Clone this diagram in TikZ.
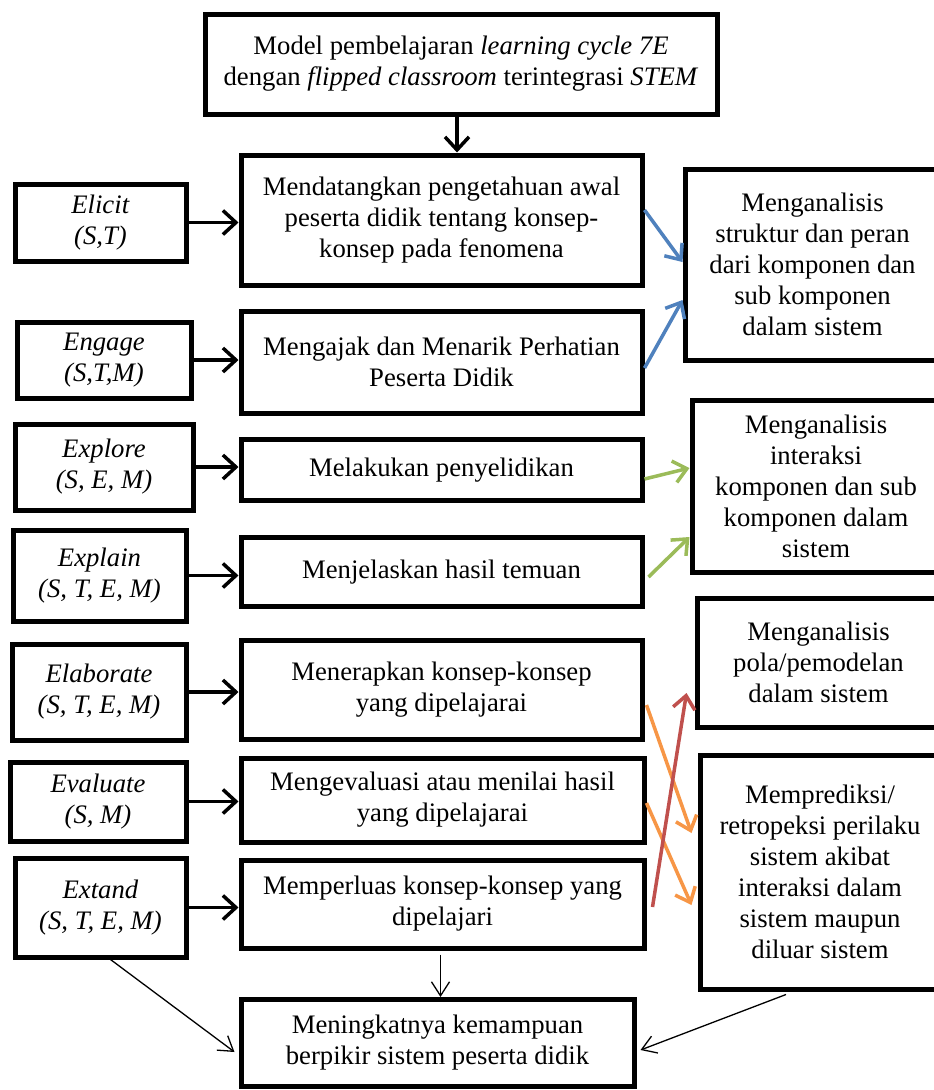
\documentclass[tikz,border=0pt]{standalone}
\usepackage{fontspec}
\setmainfont{Liberation Serif}
\usetikzlibrary{arrows.meta,calc}
\definecolor{ablue}{HTML}{4F81BD}
\definecolor{agreen}{HTML}{9BBB59}
\definecolor{aorange}{HTML}{F79646}
\definecolor{ared}{HTML}{C0504D}
\tikzset{
  box/.style={draw=black, line width=5pt, fill=white, align=center, inner sep=2pt,
    font=\fontsize{26.7}{31}\selectfont},
  thickarr/.style={line width=3.5pt, -{Straight Barb[length=13pt,width=24pt]}},
  colarr/.style={line width=3.5pt, -{Straight Barb[length=13pt,width=22pt]}},
  thinarr/.style={line width=1.3pt, -{Straight Barb[length=14pt,width=18pt]}},
}
\begin{document}
\begin{tikzpicture}[x=1pt,y=-1pt]
\clip (0,0) rectangle (934,1090);
\fill[white] (0,0) rectangle (934,1090);
% top
\node[box, minimum width=512, minimum height=100] (top) at (461,64)
  {Model pembelajaran \textit{learning cycle 7E}\\dengan \textit{flipped classroom} terintegrasi \textit{STEM}};
% middle column
\node[box, minimum width=401, minimum height=130] (m1) at (441.5,220)
  {Mendatangkan pengetahuan awal\\peserta didik tentang konsep-\\konsep pada fenomena};
\node[box, minimum width=401, minimum height=102] (m2) at (441.5,362)
  {Mengajak dan Menarik Perhatian\\Peserta Didik};
\node[box, minimum width=401, minimum height=61] (m3) at (441.5,470)
  {Melakukan penyelidikan};
\node[box, minimum width=401, minimum height=69] (m4) at (441.5,572)
  {Menjelaskan hasil temuan};
\node[box, minimum width=401, minimum height=99] (m5) at (441.5,690)
  {Menerapkan konsep-konsep\\yang dipelajarai};
\node[box, minimum width=403, minimum height=84] (m6) at (442.5,800)
  {Mengevaluasi atau menilai hasil\\yang dipelajarai};
\node[box, minimum width=403, minimum height=88] (m7) at (442.5,904)
  {Memperluas konsep-konsep yang\\dipelajari};
\node[box, minimum width=393, minimum height=87] (fin) at (437.5,1043)
  {Meningkatnya kemampuan\\berpikir sistem peserta didik};
% left column
\node[box, minimum width=171, minimum height=77] (l1) at (100.5,222.5)
  {\textit{Elicit}\\\textit{(S,T)}};
\node[box, minimum width=174, minimum height=76] (l2) at (104,360)
  {\textit{Engage}\\\textit{(S,T,M)}};
\node[box, minimum width=178, minimum height=86] (l3) at (104,467)
  {\textit{Explore}\\\textit{(S, E, M)}};
\node[box, minimum width=173, minimum height=91] (l4) at (99.5,575.5)
  {\textit{Explain}\\\textit{(S, T, E, M)}};
\node[box, minimum width=174, minimum height=96] (l5) at (99,692)
  {\textit{Elaborate}\\\textit{(S, T, E, M)}};
\node[box, minimum width=176, minimum height=79] (l6) at (98,801.5)
  {\textit{Evaluate}\\\textit{(S, M)}};
\node[box, minimum width=171, minimum height=99] (l7) at (100.5,907.5)
  {\textit{Extand}\\\textit{(S, T, E, M)}};
% right column
\node[box, minimum width=255, minimum height=191] (r1) at (812.5,264.5)
  {Menganalisis\\struktur dan peran\\dari komponen dan\\sub komponen\\dalam sistem};
\node[box, minimum width=248, minimum height=172] (r2) at (816,486)
  {Menganalisis\\interaksi\\komponen dan sub\\komponen dalam\\sistem};
\node[box, minimum width=243, minimum height=129] (r3) at (818.5,662.5)
  {Menganalisis\\pola/pemodelan\\dalam sistem};
\node[box, minimum width=240, minimum height=234] (r4) at (820,872)
  {Memprediksi/\\retropeksi perilaku\\sistem akibat\\interaksi dalam\\sistem maupun\\diluar sistem};
% arrows
\draw[thickarr] ([xshift=-4pt]top.south) -- ([xshift=-4pt]top.south |- m1.north);
\foreach \a/\b in {l1/m1,l2/m2,l3/m3,l4/m4,l5/m5,l6/m6,l7/m7}
  \draw[thickarr] ([xshift=-2pt]\a.east) -- (\a.east -| \b.west);
\draw[colarr, ablue] ([yshift=10pt]m1.east) -- ([yshift=2.5pt]r1.west);
\draw[colarr, ablue] ([yshift=-6pt]m2.east) -- ([yshift=-35.5pt]r1.west);
\draw[colarr, agreen] ([yshift=-9pt]m3.east) -- ([yshift=18pt]r2.west);
\draw[colarr, agreen] ([xshift=4pt,yshift=-5pt]m4.east) -- ([yshift=-51pt]r2.west);
\draw[colarr, aorange] ([xshift=2pt,yshift=-15pt]m5.east) -- ([xshift=-6pt,yshift=39pt]r4.west);
\draw[colarr, aorange] ([yshift=-3pt]m6.east) -- ([xshift=-6pt,yshift=-33pt]r4.west);
\draw[colarr, ared] ([xshift=6pt,yshift=-3pt]m7.east) -- ([xshift=-8pt,yshift=-30.5pt]r3.west);
\draw[thinarr] ([xshift=-2pt,yshift=-4pt]m7.south) -- ([xshift=-2pt]m7.south |- fin.north);
\draw[thinarr] ([xshift=10pt]l7.south) -- ([xshift=-4pt,yshift=-9pt]fin.west);
\draw[thinarr] ([xshift=-34pt,yshift=-3pt]r4.south) -- ([xshift=4pt,yshift=-7pt]fin.east);
\end{tikzpicture}
\end{document}
